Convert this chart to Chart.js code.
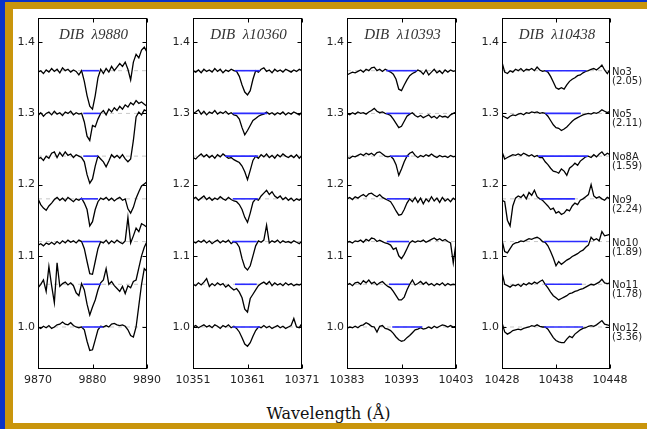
<!DOCTYPE html>
<html>
<head>
<meta charset="utf-8">
<script src="https://cdn.jsdelivr.net/npm/chart.js@4.4.0/dist/chart.umd.min.js"></script>
<style>
  html, body { margin: 0; padding: 0; background: #fff; }
  body { width: 647px; height: 429px; position: relative; overflow: hidden; font-family: 'DejaVu Sans', sans-serif; }
  .bar { position: absolute; }
  canvas { position: absolute; top: 0; }
  #xlabel { position: absolute; left: 0; width: 657px; top: 404px; text-align: center; font-family: 'DejaVu Serif', serif; font-size: 16px; color: #111; }
</style>
</head>
<body>
<div class="bar" style="left:0;top:0;width:647px;height:2px;background:#0a32c8"></div>
<div class="bar" style="left:0;top:0;width:5px;height:429px;background:#0a32c8"></div>
<div class="bar" style="left:5px;top:2px;width:642px;height:7px;background:#c9950c"></div>
<div class="bar" style="left:5px;top:2px;width:8px;height:427px;background:#c9950c"></div>
<div class="bar" style="left:5px;top:423px;width:642px;height:6px;background:#c9950c"></div>
<canvas id="p0"></canvas>
<canvas id="p1"></canvas>
<canvas id="p2"></canvas>
<canvas id="p3"></canvas>
<div id="xlabel">Wavelength (Å)</div>
<script>
// ---- data ----
const titles = ['DIB  λ9880', 'DIB  λ10360', 'DIB  λ10393', 'DIB  λ10438']
const xStart = [9870, 10351, 10383, 10428]
const xTicks = [
  [9870, 9880, 9890],
  [10351, 10361, 10371],
  [10383, 10393, 10403],
  [10428, 10438, 10448],
]
const yTicks = [1.0, 1.1, 1.2, 1.3, 1.4]
const stars = ['No3', 'No5', 'No8A', 'No9', 'No10', 'No11', 'No12']
const ebv = ['(2.05)', '(2.11)', '(1.59)', '(2.24)', '(1.89)', '(1.78)', '(3.36)']
const levels = [1.36, 1.30, 1.24, 1.18, 1.12, 1.06, 1.00]
const step = 0.5 // spectra sampled every 0.5 A

const flux9880 = [
  [1.358,1.360,1.356,1.361,1.358,1.363,1.359,1.362,1.357,1.364,1.360,1.362,1.358,1.361,1.359,1.354,1.360,1.345,1.325,1.310,1.306,1.325,1.350,1.362,1.356,1.363,1.358,1.366,1.360,1.365,1.370,1.366,1.372,1.362,1.347,1.372,1.383,1.378,1.389,1.393,1.386],
  [1.297,1.301,1.296,1.300,1.302,1.298,1.303,1.299,1.301,1.297,1.302,1.300,1.303,1.298,1.301,1.299,1.300,1.288,1.268,1.262,1.283,1.281,1.292,1.300,1.304,1.298,1.306,1.302,1.308,1.304,1.310,1.306,1.312,1.309,1.315,1.312,1.318,1.314,1.316,1.313,1.310],
  [1.236,1.238,1.234,1.240,1.237,1.244,1.246,1.238,1.245,1.240,1.246,1.241,1.243,1.238,1.242,1.240,1.238,1.232,1.214,1.202,1.208,1.226,1.240,1.236,1.232,1.225,1.233,1.242,1.238,1.241,1.237,1.242,1.236,1.232,1.236,1.262,1.295,1.302,1.298,1.305,1.303],
  [1.180,1.172,1.167,1.164,1.170,1.174,1.179,1.182,1.178,1.181,1.177,1.182,1.179,1.176,1.180,1.178,1.181,1.174,1.165,1.142,1.148,1.165,1.176,1.181,1.179,1.182,1.178,1.181,1.177,1.180,1.182,1.178,1.180,1.166,1.160,1.168,1.181,1.190,1.198,1.201,1.204],
  [1.115,1.117,1.114,1.118,1.116,1.119,1.116,1.120,1.117,1.121,1.118,1.122,1.119,1.121,1.118,1.122,1.120,1.110,1.092,1.075,1.074,1.092,1.110,1.120,1.118,1.122,1.117,1.121,1.118,1.122,1.119,1.117,1.121,1.154,1.118,1.128,1.139,1.134,1.145,1.143,1.140],
  [1.055,1.060,1.066,1.050,1.085,1.058,1.034,1.090,1.057,1.061,1.063,1.059,1.062,1.058,1.048,1.044,1.061,1.052,1.032,1.017,1.028,1.038,1.052,1.062,1.066,1.082,1.060,1.064,1.058,1.054,1.050,1.057,1.047,1.058,1.055,1.064,1.066,1.083,1.100,1.112,1.120],
  [1.000,0.998,1.001,0.999,1.002,0.998,1.000,1.003,1.004,1.007,1.004,1.003,1.006,1.002,1.000,0.999,1.000,0.996,0.980,0.967,0.968,0.982,0.996,1.001,1.000,1.002,1.000,1.004,1.005,1.003,1.002,1.003,1.001,0.996,0.988,0.986,1.000,1.030,1.060,1.082,1.078],
]
const flux10360 = [
  [1.360,1.358,1.361,1.357,1.362,1.359,1.361,1.358,1.363,1.359,1.362,1.357,1.361,1.359,1.362,1.360,1.359,1.352,1.340,1.330,1.326,1.332,1.348,1.360,1.358,1.362,1.364,1.359,1.361,1.357,1.362,1.359,1.361,1.358,1.362,1.360,1.358,1.361,1.359,1.362,1.360],
  [1.300,1.302,1.305,1.299,1.303,1.298,1.302,1.300,1.304,1.299,1.302,1.300,1.303,1.299,1.301,1.298,1.297,1.292,1.280,1.270,1.276,1.283,1.290,1.293,1.296,1.298,1.299,1.302,1.299,1.301,1.298,1.301,1.299,1.302,1.298,1.301,1.299,1.302,1.300,1.298,1.302],
  [1.238,1.236,1.240,1.243,1.239,1.242,1.238,1.241,1.237,1.242,1.239,1.243,1.240,1.237,1.238,1.235,1.233,1.231,1.226,1.218,1.207,1.220,1.234,1.240,1.237,1.242,1.239,1.243,1.238,1.241,1.237,1.242,1.239,1.243,1.240,1.238,1.241,1.238,1.242,1.237,1.241],
  [1.180,1.182,1.178,1.181,1.184,1.179,1.182,1.178,1.181,1.179,1.183,1.180,1.178,1.182,1.179,1.177,1.176,1.172,1.165,1.154,1.147,1.160,1.175,1.180,1.178,1.184,1.188,1.192,1.186,1.190,1.184,1.181,1.184,1.179,1.182,1.178,1.181,1.177,1.180,1.178,1.181],
  [1.120,1.118,1.121,1.119,1.122,1.118,1.121,1.117,1.120,1.122,1.118,1.121,1.119,1.122,1.117,1.120,1.118,1.112,1.096,1.084,1.080,1.086,1.100,1.114,1.121,1.119,1.122,1.143,1.118,1.121,1.119,1.122,1.118,1.121,1.119,1.120,1.118,1.121,1.119,1.117,1.121],
  [1.060,1.058,1.062,1.059,1.063,1.068,1.057,1.061,1.058,1.062,1.059,1.061,1.056,1.059,1.055,1.052,1.054,1.049,1.041,1.025,1.021,1.040,1.046,1.052,1.058,1.061,1.063,1.060,1.064,1.058,1.062,1.059,1.061,1.058,1.062,1.059,1.061,1.058,1.060,1.059,1.061],
  [1.000,1.002,0.999,1.001,1.003,1.000,1.002,0.999,1.003,1.001,0.998,1.002,1.000,1.003,0.999,1.001,0.998,0.993,0.985,0.976,0.973,0.978,0.987,0.995,1.000,0.999,1.002,0.999,1.001,0.998,1.000,1.002,0.999,1.001,0.998,1.000,1.002,1.012,1.000,0.999,1.005],
]
const flux10393 = [
  [1.354,1.356,1.358,1.357,1.359,1.361,1.358,1.362,1.360,1.364,1.365,1.360,1.362,1.359,1.362,1.360,1.358,1.355,1.348,1.334,1.332,1.340,1.347,1.353,1.356,1.358,1.361,1.359,1.355,1.361,1.354,1.358,1.362,1.357,1.360,1.356,1.361,1.358,1.361,1.359,1.360],
  [1.300,1.298,1.301,1.299,1.302,1.300,1.301,1.299,1.302,1.304,1.307,1.303,1.301,1.302,1.300,1.299,1.297,1.292,1.286,1.280,1.282,1.289,1.296,1.299,1.301,1.297,1.295,1.297,1.294,1.296,1.298,1.294,1.296,1.293,1.297,1.295,1.296,1.294,1.298,1.300,1.302],
  [1.238,1.237,1.240,1.239,1.241,1.243,1.241,1.244,1.242,1.244,1.241,1.245,1.246,1.243,1.240,1.239,1.240,1.236,1.228,1.213,1.222,1.232,1.240,1.244,1.246,1.241,1.238,1.241,1.239,1.242,1.240,1.243,1.240,1.238,1.241,1.239,1.240,1.238,1.241,1.239,1.240],
  [1.180,1.182,1.179,1.183,1.181,1.184,1.186,1.183,1.187,1.188,1.185,1.183,1.186,1.182,1.180,1.178,1.176,1.170,1.163,1.157,1.158,1.165,1.174,1.180,1.176,1.182,1.175,1.181,1.173,1.180,1.176,1.183,1.177,1.181,1.175,1.182,1.177,1.180,1.176,1.181,1.178],
  [1.119,1.120,1.118,1.121,1.120,1.122,1.119,1.123,1.121,1.125,1.124,1.120,1.122,1.120,1.118,1.117,1.115,1.109,1.111,1.100,1.096,1.102,1.110,1.118,1.121,1.119,1.121,1.120,1.122,1.119,1.121,1.123,1.125,1.122,1.124,1.121,1.123,1.120,1.118,1.090,1.118],
  [1.059,1.061,1.058,1.062,1.063,1.060,1.065,1.062,1.066,1.061,1.063,1.059,1.062,1.064,1.060,1.057,1.055,1.050,1.044,1.038,1.038,1.042,1.052,1.060,1.066,1.059,1.061,1.064,1.060,1.063,1.059,1.061,1.058,1.061,1.059,1.062,1.058,1.061,1.059,1.060,1.059],
  [0.998,1.000,0.999,1.001,0.999,1.002,1.003,1.006,1.004,1.001,1.000,0.993,1.001,1.002,0.998,0.997,0.995,0.991,0.986,0.982,0.980,0.981,0.985,0.988,0.992,0.996,0.997,0.999,0.997,0.998,1.000,0.998,1.001,0.999,1.001,1.003,1.002,1.000,1.002,1.000,1.001],
]
const flux10438 = [
  [1.372,1.358,1.356,1.360,1.358,1.362,1.360,1.363,1.359,1.362,1.361,1.363,1.360,1.365,1.361,1.359,1.360,1.358,1.352,1.344,1.336,1.334,1.336,1.334,1.340,1.345,1.348,1.350,1.353,1.354,1.357,1.359,1.360,1.362,1.363,1.361,1.364,1.368,1.361,1.356,1.362],
  [1.297,1.295,1.293,1.296,1.298,1.297,1.299,1.300,1.298,1.301,1.300,1.302,1.301,1.302,1.300,1.301,1.300,1.296,1.290,1.284,1.280,1.279,1.276,1.278,1.281,1.285,1.289,1.292,1.294,1.296,1.298,1.299,1.300,1.299,1.301,1.300,1.302,1.305,1.303,1.301,1.303],
  [1.246,1.236,1.238,1.240,1.242,1.241,1.243,1.241,1.244,1.242,1.240,1.242,1.239,1.241,1.238,1.238,1.232,1.228,1.223,1.219,1.218,1.216,1.222,1.219,1.213,1.223,1.226,1.230,1.227,1.233,1.236,1.239,1.240,1.238,1.242,1.239,1.243,1.246,1.241,1.244,1.242],
  [1.178,1.176,1.150,1.142,1.170,1.181,1.184,1.182,1.186,1.180,1.189,1.185,1.192,1.183,1.180,1.178,1.174,1.170,1.165,1.167,1.160,1.162,1.158,1.160,1.165,1.163,1.170,1.174,1.172,1.178,1.180,1.183,1.186,1.200,1.184,1.181,1.183,1.180,1.178,1.182,1.180],
  [1.122,1.106,1.104,1.110,1.116,1.118,1.119,1.121,1.120,1.122,1.124,1.123,1.125,1.126,1.124,1.120,1.119,1.114,1.106,1.097,1.086,1.092,1.088,1.091,1.094,1.096,1.099,1.101,1.103,1.106,1.108,1.112,1.115,1.126,1.122,1.124,1.121,1.134,1.128,1.129,1.130],
  [1.077,1.060,1.058,1.056,1.059,1.058,1.060,1.057,1.061,1.059,1.062,1.060,1.063,1.061,1.064,1.066,1.060,1.055,1.049,1.044,1.041,1.038,1.040,1.042,1.044,1.047,1.048,1.050,1.051,1.053,1.054,1.056,1.058,1.060,1.059,1.061,1.063,1.067,1.062,1.061,1.062],
  [1.006,0.993,0.990,0.992,0.995,0.996,0.997,0.996,0.998,0.999,1.000,1.002,1.001,1.003,1.001,1.000,1.000,0.997,0.991,0.985,0.981,0.979,0.978,0.978,0.983,0.987,0.985,0.990,0.993,0.996,0.998,0.999,1.001,1.002,1.001,1.003,1.006,1.009,1.004,1.003,1.002],
]
// integration windows (blue bars), [from, to] in A
const band9880 = [[9878.1, 9881.2], [9878.3, 9881.4], [9878.3, 9881.0], [9877.7, 9881.0], [9878.1, 9881.4], [9878.3, 9881.6], [9878.1, 9881.9]]
const band10360 = [[10358.7, 10363.3], [10358.3, 10364.6], [10356.9, 10362.9], [10358.3, 10362.9], [10358.2, 10362.7], [10358.7, 10362.7], [10358.3, 10363.3]]
const band10393 = [[10390.2, 10395.8], [10390.2, 10394.6], [10390.9, 10394.4], [10390.3, 10394.4], [10390.3, 10394.4], [10390.7, 10394.4], [10391.3, 10396.8]]
const band10438 = [[10436.0, 10443.6], [10436.0, 10442.6], [10434.7, 10443.9], [10435.0, 10441.5], [10435.8, 10443.9], [10436.0, 10442.8], [10435.8, 10443.0]]

const fluxes = [flux9880, flux10360, flux10393, flux10438]
const bands = [band9880, band10360, band10393, band10438]

// ---- layout (page pixels) ----
const plotLeft = [38, 193, 347, 502]
const plotRight = [147, 302, 456, 610]
const plotTop = 18
const plotBottom = 369
const canvasH = 400
const axisW = 30
const padRight = 40
const yMin = 0.941
const yMax = 1.434

const tickFont = { family: 'DejaVu Sans', size: 11 }
const textColor = '#222'

const framePlugin = {
  id: 'frame',
  afterDatasetsDraw(chart, args, opts) {
    const { ctx, chartArea: a, scales } = chart
    const L = Math.round(a.left) + 0.5
    const R = Math.round(a.right) - 0.5
    const T = Math.round(a.top) + 0.5
    const B = Math.round(a.bottom) - 0.5
    ctx.save()
    ctx.strokeStyle = '#000'
    ctx.lineWidth = 1
    ctx.strokeRect(L, T, R - L, B - T)
    ctx.beginPath()
    yTicks.forEach((v) => {
      const y = Math.round(scales.y.getPixelForValue(v)) + 0.5
      ctx.moveTo(L, y); ctx.lineTo(L + 4, y)
      ctx.moveTo(R, y); ctx.lineTo(R - 4, y)
    })
    opts.xt.forEach((v) => {
      const x = Math.round(scales.x.getPixelForValue(v)) + 0.5
      ctx.moveTo(x, B); ctx.lineTo(x, B - 4)
      ctx.moveTo(x, T); ctx.lineTo(x, T + 4)
    })
    ctx.stroke()

    // panel title
    ctx.fillStyle = '#333'
    ctx.font = 'italic 15px "Liberation Serif", serif'
    ctx.textAlign = 'center'
    ctx.textBaseline = 'alphabetic'
    ctx.fillText(opts.title, (a.left + a.right) / 2 + 1, 39)

    // star names on the right of the last panel
    if (opts.names) {
      ctx.font = '10px "DejaVu Sans", sans-serif'
      ctx.textAlign = 'left'
      ctx.textBaseline = 'middle'
      ctx.fillStyle = textColor
      levels.forEach((lv, i) => {
        const y = scales.y.getPixelForValue(lv)
        ctx.fillText(stars[i], a.right + 2, y + 1.5)
        ctx.fillText(ebv[i], a.right + 2, y + 10.5)
      })
    }
    ctx.restore()
  },
}

function makePanel(k) {
  const x0 = xStart[k]
  const flux = fluxes[k]
  const band = bands[k]
  const xMax = x0 + 20
  const datasets = []

  // blue windows on top
  band.forEach((b, i) => {
    datasets.push({
      data: [{ x: b[0], y: levels[i] }, { x: b[1], y: levels[i] }],
      borderColor: '#2b2bff',
      borderWidth: 1.6,
      pointRadius: 0,
      order: 0,
    })
  })
  // spectra
  flux.forEach((row) => {
    datasets.push({
      data: row.map((f, j) => ({ x: x0 + j * step, y: f })),
      borderColor: '#000',
      borderWidth: 1.3,
      pointRadius: 0,
      tension: 0,
      order: 1,
    })
  })
  // grey continuum guides underneath
  levels.forEach((lv) => {
    datasets.push({
      data: [{ x: x0, y: lv }, { x: xMax, y: lv }],
      borderColor: '#c8c8c8',
      borderWidth: 1,
      borderDash: [4, 4],
      pointRadius: 0,
      order: 2,
    })
  })

  const cv = document.getElementById('p' + k)
  const w = plotRight[k] - plotLeft[k] + axisW + padRight
  cv.width = w
  cv.height = canvasH
  cv.style.left = (plotLeft[k] - axisW) + 'px'
  cv.style.width = w + 'px'
  cv.style.height = canvasH + 'px'

  new Chart(cv.getContext('2d'), {
    type: 'line',
    data: { datasets },
    options: {
      responsive: false,
      animation: false,
      devicePixelRatio: 1,
      layout: { padding: { left: 0, right: padRight, top: plotTop, bottom: 0 }, autoPadding: false },
      plugins: {
        legend: { display: false },
        tooltip: { enabled: false },
        frame: { title: titles[k], xt: xTicks[k], names: k === 3 },
      },
      scales: {
        x: {
          type: 'linear',
          min: x0,
          max: xMax,
          grid: { display: false, drawTicks: false },
          border: { display: false },
          afterBuildTicks: (s) => { s.ticks = xTicks[k].map((v) => ({ value: v })) },
          afterFit: (s) => { s.height = canvasH - plotBottom },
          ticks: {
            autoSkip: false,
            maxRotation: 0,
            padding: 5,
            color: textColor,
            font: tickFont,
            callback: (v) => String(v),
          },
        },
        y: {
          type: 'linear',
          min: yMin,
          max: yMax,
          grid: { display: false, drawTicks: false },
          border: { display: false },
          afterBuildTicks: (s) => { s.ticks = yTicks.map((v) => ({ value: v })) },
          afterFit: (s) => { s.width = axisW },
          ticks: {
            padding: 3,
            color: textColor,
            font: tickFont,
            callback: (v) => v.toFixed(1),
          },
        },
      },
    },
    plugins: [framePlugin],
  })
}

for (let k = 0; k < 4; k++) makePanel(k)
</script>
</body>
</html>
